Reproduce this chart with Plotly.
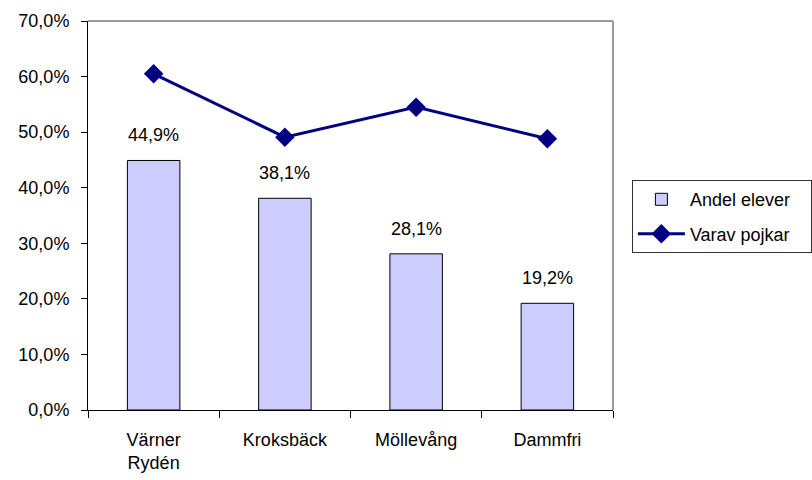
import plotly.graph_objects as go

categories = ["Värner<br>Rydén", "Kroksbäck", "Möllevång", "Dammfri"]
andel_elever = [0.449, 0.381, 0.281, 0.192]
varav_pojkar = [0.605, 0.491, 0.545, 0.488]
y_ticks = [0, 0.1, 0.2, 0.3, 0.4, 0.5, 0.6, 0.7]
series_names = ["Andel elever", "Varav pojkar"]

def pct(v):
    return f"{v*100:.1f}%".replace(".", ",")

FONT = "Liberation Sans, Arial, sans-serif"
FS = 18
PAD = "\u00a0\u00a0\u00a0"

fig = go.Figure()
fig.add_trace(go.Bar(
    x=categories, y=andel_elever, name=series_names[0] + PAD,
    marker=dict(color="#CCCCFF", line=dict(color="#000000", width=1)),
    width=0.4, legendgroup="a",
))
fig.add_trace(go.Scatter(
    x=categories, y=varav_pojkar, name=series_names[1] + PAD, mode="lines+markers",
    line=dict(color="#000080", width=3),
    marker=dict(symbol="diamond", size=15, color="#000080"),
    legendgroup="b",
))

for c, v in zip(categories, andel_elever):
    fig.add_annotation(x=c, y=v, text=pct(v), showarrow=False,
                       yanchor="bottom", yshift=13,
                       font=dict(family=FONT, size=FS, color="#000000"))

# top and right border of plot area (gray)
fig.add_shape(type="line", xref="x domain", yref="y domain", x0=0, x1=1, y0=1, y1=1,
              line=dict(color="#9a9a9a", width=2))
fig.add_shape(type="line", xref="x domain", yref="y domain", x0=1, x1=1, y0=0, y1=1,
              line=dict(color="#9a9a9a", width=2))

fig.update_layout(
    width=812, height=480,
    margin=dict(l=88, r=199, t=21, b=70, autoexpand=False),
    paper_bgcolor="white", plot_bgcolor="white",
    font=dict(family=FONT, size=FS, color="#000000"),
    separators=", ",
    bargap=0.6,
    showlegend=True,
    legend=dict(
        x=1.036, xanchor="left", y=0.591, yanchor="top",
        bgcolor="white", bordercolor="#333333", borderwidth=1,
        font=dict(family=FONT, size=FS, color="#000000"),
        traceorder="grouped", tracegroupgap=8, itemwidth=47,
    ),
)
fig.update_yaxes(
    range=[0, 0.7], tickvals=y_ticks, tickformat=".1%",
    showgrid=False, zeroline=False,
    showline=True, linecolor="#000000", linewidth=1,
    ticks="outside", ticklen=6, tickcolor="#000000",
    ticklabelstandoff=8,
)
fig.update_xaxes(
    showgrid=False, showline=True, linecolor="#000000", linewidth=1,
    ticks="outside", ticklen=7, tickcolor="#000000", tickson="boundaries",
    range=[-0.5, 3.5], ticklabelstandoff=13,
)

fig.write_html("out.html", config={"displayModeBar": False},
               post_script="document.body.style.margin='0';document.body.style.overflow='hidden';")
